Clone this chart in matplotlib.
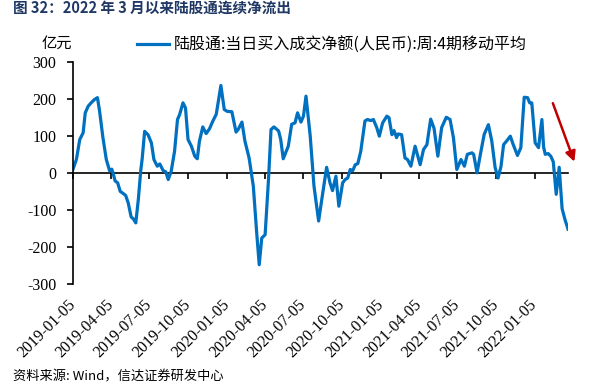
import matplotlib
matplotlib.use('Agg')
import matplotlib.pyplot as plt
import pandas as pd

plt.rcParams['font.family'] = ['Noto Sans CJK SC', 'DejaVu Sans']

# 陆股通 当日买入成交净额 4期移动平均 (亿元), 读图估计
dates_2019 = ['2019-01-05', '2019-01-13', '2019-01-21', '2019-01-29', '2019-02-03', '2019-02-10',
              '2019-02-17', '2019-02-25', '2019-03-04', '2019-03-09', '2019-03-17', '2019-03-25',
              '2019-04-02', '2019-04-07', '2019-04-11', '2019-04-15', '2019-04-21', '2019-04-27',
              '2019-05-02', '2019-05-10', '2019-05-16', '2019-05-23', '2019-05-28', '2019-06-03',
              '2019-06-09', '2019-06-15', '2019-06-18', '2019-06-24', '2019-07-02', '2019-07-10',
              '2019-07-16', '2019-07-24', '2019-07-30', '2019-08-07', '2019-08-13', '2019-08-19',
              '2019-08-26', '2019-09-03', '2019-09-10', '2019-09-15', '2019-09-23', '2019-09-29',
              '2019-10-05', '2019-10-13', '2019-10-21', '2019-10-27', '2019-11-01', '2019-11-09',
              '2019-11-17', '2019-11-25', '2019-12-03', '2019-12-11', '2019-12-22', '2019-12-30']
vals_2019 = [10, 36, 90, 108, 162, 180,
             189, 198, 203, 167, 95, 36,
             5, 10, -5, -22, -27, -50,
             -54, -61, -81, -119, -124, -135,
             -72, 9, 36, 112, 103, 81,
             36, 18, 24, 6, 3, -18,
             4, 58, 144, 157, 189, 175,
             90, 72, 45, 38, 85, 124,
             106, 119, 140, 158, 236, 171]

dates_2020 = ['2020-01-06', '2020-01-17', '2020-01-27', '2020-02-01', '2020-02-10', '2020-02-17',
              '2020-02-27', '2020-03-08', '2020-03-16', '2020-03-22', '2020-03-28', '2020-04-05',
              '2020-04-13', '2020-04-19', '2020-04-26', '2020-05-07', '2020-05-12', '2020-05-18',
              '2020-05-30', '2020-06-07', '2020-06-15', '2020-06-21', '2020-06-29', '2020-07-05',
              '2020-07-11', '2020-07-21', '2020-07-30', '2020-08-10', '2020-08-18', '2020-08-29',
              '2020-09-06', '2020-09-12', '2020-09-20', '2020-09-27', '2020-10-06', '2020-10-12',
              '2020-10-18', '2020-10-24', '2020-10-30', '2020-11-05', '2020-11-11', '2020-11-18',
              '2020-11-28', '2020-12-04', '2020-12-12', '2020-12-18', '2020-12-26']
vals_2020 = [166, 165, 110, 117, 137, 86,
             40, -36, -162, -248, -176, -167,
             -18, 117, 124, 113, 90, 38,
             72, 131, 135, 162, 137, 153,
             207, 100, -36, -130, -68, 15,
             -27, -48, -9, -90, -27, -18,
             -14, 9, 6, 22, 25, 58,
             140, 144, 141, 144, 122]

dates_2021 = ['2021-01-01', '2021-01-09', '2021-01-19', '2021-01-24', '2021-01-31', '2021-02-05',
              '2021-02-11', '2021-02-15', '2021-02-23', '2021-03-03', '2021-03-09', '2021-03-17',
              '2021-03-27', '2021-04-08', '2021-04-16', '2021-04-24', '2021-05-03', '2021-05-11',
              '2021-05-20', '2021-05-29', '2021-06-09', '2021-06-18', '2021-06-26', '2021-07-04',
              '2021-07-14', '2021-07-22', '2021-07-29', '2021-08-09', '2021-08-13', '2021-08-21',
              '2021-08-29', '2021-09-07', '2021-09-17', '2021-09-25', '2021-10-03', '2021-10-10',
              '2021-10-17', '2021-10-23', '2021-10-31', '2021-11-08', '2021-11-15', '2021-11-25',
              '2021-12-03', '2021-12-11', '2021-12-19', '2021-12-24', '2021-12-29']
vals_2021 = [99, 135, 153, 149, 103, 114,
             95, 105, 103, 40, 36, 18,
             72, 22, 63, 76, 145, 120,
             45, 122, 150, 144, 95, 9,
             36, 18, 50, 54, 50, 0,
             50, 104, 130, 86, 14, -14,
             18, 76, 87, 99, 76, 47,
             68, 204, 203, 189, 189]

dates_2022 = ['2022-01-06', '2022-01-14', '2022-01-22', '2022-01-26', '2022-01-30', '2022-02-06',
              '2022-02-12', '2022-02-18', '2022-02-25', '2022-03-04', '2022-03-11', '2022-03-18',
              '2022-03-25']
vals_2022 = [81, 68, 144, 70, 50, 52,
             45, 30, -58, 15, -97, -127,
             -152]

tick_labels = ['2019-01-05', '2019-04-05', '2019-07-05', '2019-10-05', '2020-01-05',
               '2020-04-05', '2020-07-05', '2020-10-05', '2021-01-05', '2021-04-05',
               '2021-07-05', '2021-10-05', '2022-01-05']
y_ticks = [-300, -200, -100, 0, 100, 200, 300]

title = '图 32：2022 年 3 月以来陆股通连续净流出'
series_name = '陆股通:当日买入成交净额(人民币):周:4期移动平均'
unit = '亿元'
source = '资料来源: Wind，信达证券研发中心'

# 红色箭头 (起点, 终点)
arrow_from = ('2022-02-17', 188)
arrow_to = ('2022-04-09', 30)

x = pd.to_datetime(dates_2019 + dates_2020 + dates_2021 + dates_2022)
y = vals_2019 + vals_2020 + vals_2021 + vals_2022

fig = plt.figure(figsize=(6, 3.83), dpi=100)
ax = fig.add_axes([0.1217, 0.2585, 0.825, 0.5804])

ax.plot(x, y, color='#0070C0', lw=2.3, solid_joinstyle='round', label=series_name)

ax.set_ylim(-300, 300)
ax.set_xlim(x[0], x[-1])

for s in ['top', 'right', 'bottom']:
    ax.spines[s].set_visible(False)
ax.spines['left'].set_linewidth(1.2)

serif = 'Liberation Serif'
ticks = pd.to_datetime(tick_labels)
ax.set_xticks(ticks)
ax.set_xticklabels(tick_labels, rotation=45, ha='right', va='center', rotation_mode='anchor',
                   fontfamily=serif, fontsize=11.5)
ax.set_yticks(y_ticks)
ax.set_yticklabels([str(v) for v in y_ticks], fontfamily=serif, fontsize=11.5)
ax.tick_params(axis='x', length=0, pad=13)
ax.tick_params(axis='y', direction='out', length=4, width=1.2, pad=8)

# 零轴及刻度
zero = ax.secondary_xaxis(0.5)
zero.set_xticks(ticks)
zero.tick_params(axis='x', direction='in', length=4, width=1.2, labeltop=False, labelbottom=False)
zero.spines['top'].set_linewidth(1.2)

ax.annotate('', xy=(pd.Timestamp(arrow_to[0]), arrow_to[1]),
            xytext=(pd.Timestamp(arrow_from[0]), arrow_from[1]),
            arrowprops=dict(arrowstyle='-|>,head_length=0.6,head_width=0.3', color='#C00000',
                            lw=1.8, shrinkA=0, shrinkB=0, mutation_scale=10),
            annotation_clip=False)

ax.legend(frameon=False, loc='center left', bbox_to_anchor=(137 / 600, 1 - 45 / 383),
          bbox_transform=fig.transFigure, borderpad=0, borderaxespad=0,
          handlelength=2.0, handletextpad=0.3, prop={'size': 11.5})

fig.text(57 / 600, 1 - 43 / 383, unit, fontsize=11, ha='center', va='center')
fig.text(13 / 600, 1 - 7.5 / 383, title, fontsize=10.5, fontweight='bold', color='#1F3864',
         ha='left', va='center')
fig.text(13 / 600, 1 - 377 / 383, source, fontsize=9.5, ha='left', va='center')

fig.savefig('out.png', dpi=100)
